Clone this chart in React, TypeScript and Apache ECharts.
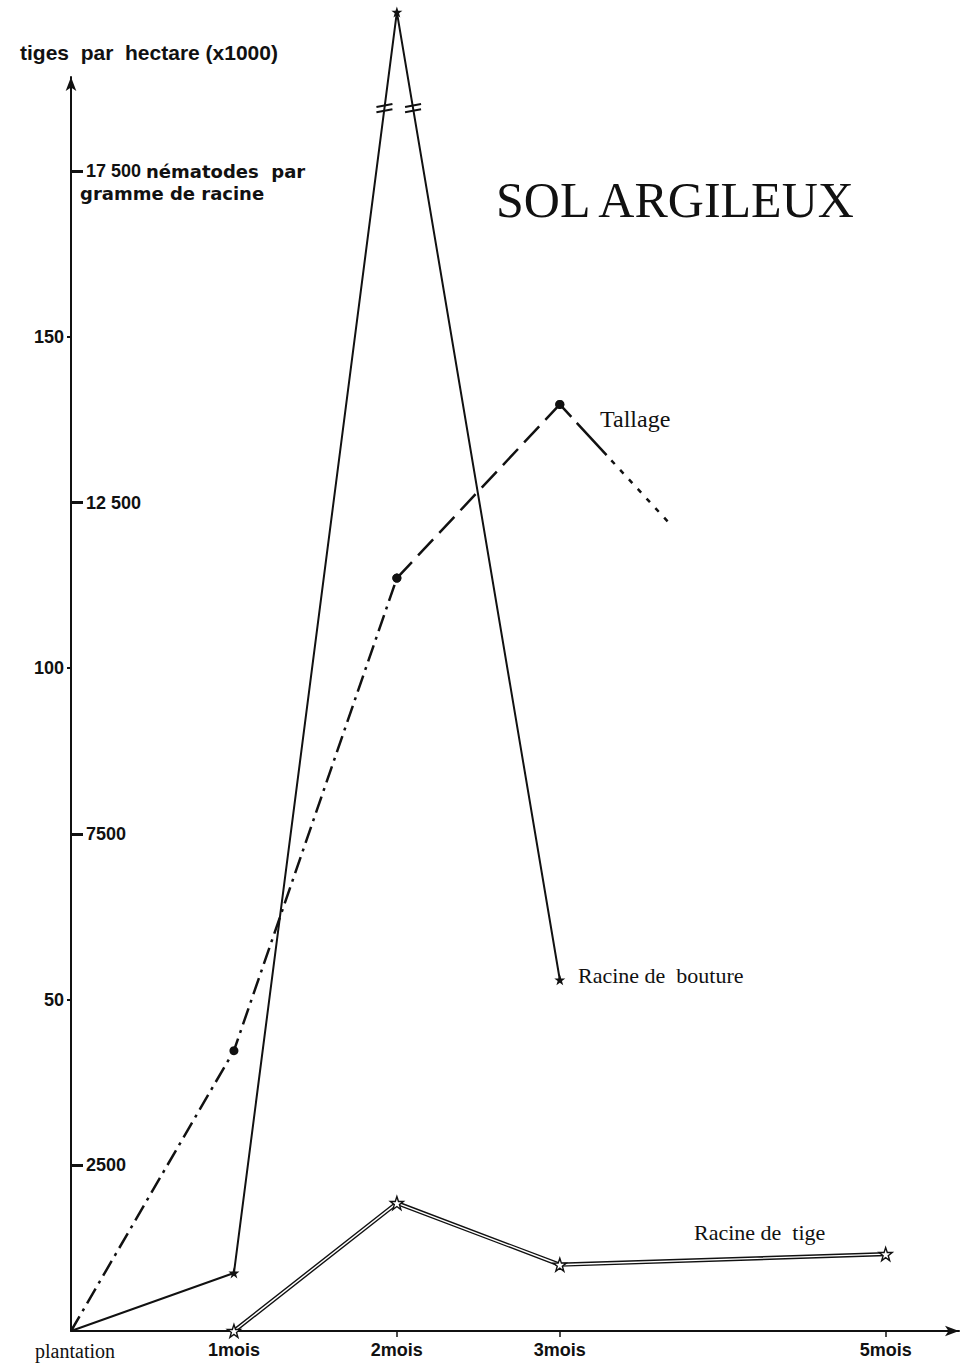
import React, { useEffect, useRef } from "react";
import * as echarts from "echarts";

// ---- data ----
const monthLabels: Record<number, string> = { 0: "plantation", 1: "1mois", 2: "2mois", 3: "3mois", 5: "5mois" };
const labelMonths = [0, 1, 2, 3, 5];
const tickMonths = [2, 3, 5];

const tigesTicks = [50, 100, 150];
const nematodeTicks = [2500, 7500, 12500, 17500];
const nematodeTickLabels = ["2500", "7500", "12 500", "17 500 {t|nématodes  par}"];

const tallageMonths = [0, 1, 2, 3];
const tallageValues = [0, 42.3, 113.6, 139.8];
const tallageTrendMonths = [3, 3.69];
const tallageTrendValues = [139.8, 121.4];

const boutureMonths = [0, 1, 2, 3];
const boutureValues = [0, 876, 19900, 5300];

const tigeMonths = [1, 2, 3, 5];
const tigeValues = [0, 1930, 1000, 1160];

const breakLevel = 18450;

const STAR =
  "path://M50,2 L61.8,36.2 L97.6,36.2 L68.7,57.6 L79.4,92 L50,71 L20.6,92 L31.3,57.6 L2.4,36.2 L38.2,36.2 Z";

const INK = "#111";
const SANS = "'Liberation Sans', Arial, sans-serif";
const WIDE = "'DejaVu Sans', 'Liberation Sans', sans-serif";
const SERIF = "'Liberation Serif', 'Times New Roman', serif";

export default function App() {
  const ref = useRef<HTMLDivElement>(null);

  useEffect(() => {
    document.body.style.margin = "0";
    if (!ref.current) return;
    const chart = echarts.init(ref.current, undefined, { renderer: "svg" });

    const tallageA = tallageMonths.slice(0, 3).map((m, i) =>
      i === 0 ? { value: [m, tallageValues[i]], symbol: "none" } : [m, tallageValues[i]]
    );
    const tallageB = tallageMonths.slice(2).map((m, i) => [m, tallageValues[i + 2]]);
    const tallageC = tallageTrendMonths.map((m, i) =>
      i === 0 ? [m, tallageTrendValues[i]] : { value: [m, tallageTrendValues[i]], symbol: "none" }
    );
    const bouture = boutureMonths.map((m, i) =>
      i === 0 ? { value: [m, boutureValues[i]], symbol: "none" } : [m, boutureValues[i]]
    );
    const tige = tigeMonths.map((m, i) => [m, tigeValues[i]]);

    chart.setOption({
      animation: false,
      backgroundColor: "#fff",
      grid: { left: 71, right: 6, top: 77, bottom: 34, containLabel: false },
      xAxis: {
        type: "value",
        min: 0,
        max: 5.45,
        splitLine: { show: false },
        axisLine: {
          show: true,
          lineStyle: { color: INK, width: 2 },
          symbol: ["none", "arrow"],
          symbolSize: [8, 14],
        },
        axisTick: { show: true, customValues: tickMonths, length: 6, lineStyle: { color: INK, width: 1.5 } },
        axisLabel: {
          customValues: labelMonths,
          margin: 10,
          color: INK,
          fontFamily: SANS,
          fontWeight: "bold",
          fontSize: 18,
          formatter: (v: number) => (v === 0 ? "{p|" + monthLabels[v] + "}" : monthLabels[v] ?? ""),
          rich: {
            p: { fontFamily: SERIF, fontSize: 20, fontWeight: "normal", color: INK, padding: [0, 0, 0, 8] },
          },
        },
      },
      yAxis: [
        {
          type: "value",
          min: 0,
          max: 189.2,
          position: "left",
          splitLine: { show: false },
          axisLine: {
            show: true,
            lineStyle: { color: INK, width: 2 },
            symbol: ["none", "arrow"],
            symbolSize: [8, 14],
          },
          axisTick: { show: true, customValues: tigesTicks, length: 4, lineStyle: { color: INK, width: 2 } },
          axisLabel: {
            customValues: tigesTicks,
            margin: 7,
            color: INK,
            fontFamily: SANS,
            fontWeight: "bold",
            fontSize: 18,
          },
        },
        {
          type: "value",
          min: 0,
          max: 18920,
          position: "left",
          splitLine: { show: false },
          axisLine: { show: false },
          axisTick: {
            show: true,
            inside: true,
            customValues: nematodeTicks,
            length: 12,
            lineStyle: { color: INK, width: 3 },
          },
          axisLabel: {
            inside: true,
            customValues: nematodeTicks,
            margin: 15,
            color: INK,
            fontFamily: SANS,
            fontWeight: "bold",
            fontSize: 18,
            formatter: (v: number) => nematodeTickLabels[nematodeTicks.indexOf(v)] ?? "",
            rich: {
              t: { fontFamily: WIDE, fontWeight: "bold", fontSize: 18, color: INK },
            },
          },
        },
      ],
      series: [
        {
          name: "Tallage",
          type: "line",
          yAxisIndex: 0,
          data: tallageA,
          symbol: "circle",
          symbolSize: 9,
          itemStyle: { color: INK },
          lineStyle: { color: INK, width: 2.5, type: [17, 6, 3, 6] },
        },
        {
          name: "Tallage",
          type: "line",
          yAxisIndex: 0,
          data: tallageB,
          symbol: "circle",
          symbolSize: 9,
          itemStyle: { color: INK },
          lineStyle: { color: INK, width: 2.5, type: [22, 9] },
        },
        {
          name: "Tallage",
          type: "line",
          yAxisIndex: 0,
          data: tallageC,
          symbol: "circle",
          symbolSize: 9,
          itemStyle: { color: INK },
          lineStyle: {
            color: INK,
            width: 2.5,
            type: [17, 8, 44, 7, 5, 8, 5, 8, 5, 8, 5, 8, 5, 8, 5, 8, 5, 8],
          },
        },
        {
          name: "Racine de bouture",
          type: "line",
          yAxisIndex: 1,
          clip: false,
          data: bouture,
          symbol: STAR,
          symbolSize: 11,
          itemStyle: { color: INK },
          lineStyle: { color: INK, width: 2 },
        },
        {
          name: "Racine de tige",
          type: "line",
          yAxisIndex: 1,
          data: tige,
          symbol: "none",
          lineStyle: { color: INK, width: 4.2 },
        },
        {
          name: "Racine de tige",
          type: "line",
          yAxisIndex: 1,
          data: tige,
          symbol: STAR,
          symbolSize: 13,
          itemStyle: { color: "#fff", borderColor: INK, borderWidth: 1.4 },
          lineStyle: { color: "#fff", width: 1.4 },
        },
      ],
    });

    // break marks on the "Racine de bouture" line, placed through the axis scales
    const b1 = boutureMonths[1] + (breakLevel - boutureValues[1]) / (boutureValues[2] - boutureValues[1]);
    const b2 = boutureMonths[2] + (boutureValues[2] - breakLevel) / (boutureValues[2] - boutureValues[3]);
    const marks: any[] = [];
    [b1, b2].forEach((bx) => {
      const p = chart.convertToPixel({ xAxisIndex: 0, yAxisIndex: 1 }, [bx, breakLevel]) as number[];
      [-2.6, 2.6].forEach((d) => {
        marks.push({
          type: "line",
          shape: { x1: p[0] - 8, y1: p[1] + d + 1.5, x2: p[0] + 8, y2: p[1] + d - 1.5 },
          style: { stroke: INK, lineWidth: 2 },
          z: 10,
        });
      });
    });

    chart.setOption({
      graphic: [
        {
          type: "text",
          left: 20,
          top: 42,
          style: { text: "tiges  par  hectare (x1000)", font: `bold 21px ${SANS}`, fill: INK },
        },
        {
          type: "text",
          left: 80,
          top: 184,
          style: { text: "gramme de racine", font: `bold 18px ${WIDE}`, fill: INK },
        },
        {
          type: "text",
          left: 496,
          top: 175,
          style: { text: "SOL ARGILEUX", font: `50px ${SERIF}`, fill: INK },
        },
        {
          type: "text",
          left: 600,
          top: 407,
          style: { text: "Tallage", font: `24px ${SERIF}`, fill: INK },
        },
        {
          type: "text",
          left: 578,
          top: 964,
          style: { text: "Racine de  bouture", font: `22px ${SERIF}`, fill: INK },
        },
        {
          type: "text",
          left: 694,
          top: 1221,
          style: { text: "Racine de  tige", font: `22px ${SERIF}`, fill: INK },
        },
        ...marks,
      ],
    });

    return () => chart.dispose();
  }, []);

  return <div ref={ref} style={{ width: 965, height: 1365 }} />;
}
